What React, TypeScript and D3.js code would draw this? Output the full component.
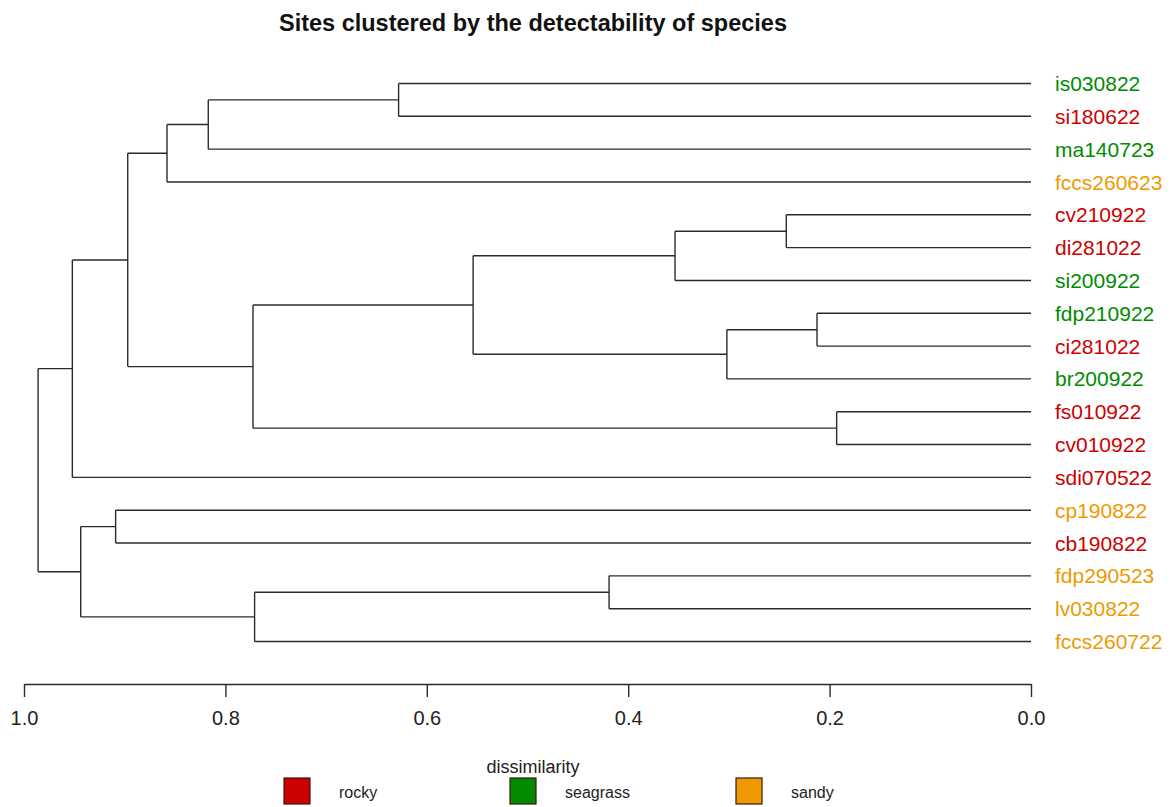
import React, { useRef, useEffect } from "react";
import * as d3 from "d3";

// leaf order top -> bottom, as in the dendrogram
const leaves = [
  "is030822", "si180622", "ma140723", "fccs260623", "cv210922", "di281022",
  "si200922", "fdp210922", "ci281022", "br200922", "fs010922", "cv010922",
  "sdi070522", "cp190822", "cb190822", "fdp290523", "lv030822", "fccs260722",
];
const leafHabitat = [
  "seagrass", "rocky", "seagrass", "sandy", "rocky", "rocky",
  "seagrass", "seagrass", "rocky", "seagrass", "rocky", "rocky",
  "rocky", "sandy", "rocky", "sandy", "sandy", "sandy",
];

// hclust-style merge table: negative = leaf (1-based), positive = earlier merge row
const mergeA = [-11, -8, -5, 2, 3, -16, 5, -1, 6, 7, 8, 11, 12, -14, 14, 13, 16];
const mergeB = [-12, -9, -6, -10, -7, -17, 4, -2, -18, 1, -3, -4, 10, -15, 9, -13, 15];
const mergeHeight = [
  0.193, 0.2125, 0.243, 0.302, 0.3535, 0.419, 0.554, 0.628, 0.771,
  0.7726, 0.817, 0.858, 0.897, 0.909, 0.9437, 0.952, 0.986,
];

const axisTicks = [1.0, 0.8, 0.6, 0.4, 0.2, 0.0];
const habitats = ["rocky", "seagrass", "sandy"];
const habitatColors = ["#CD0000", "#008B00", "#EE9A00"];

const W = 1175;
const H = 807;
const FONT = "'Liberation Sans', Arial, sans-serif";

type TreeNode = { name: string; height: number; children?: TreeNode[] };

function buildNode(ref: number): TreeNode {
  if (ref < 0) return { name: leaves[-ref - 1], height: 0 };
  const i = ref - 1;
  return {
    name: "m" + ref,
    height: mergeHeight[i],
    children: [buildNode(mergeA[i]), buildNode(mergeB[i])],
  };
}

export default function App() {
  const ref = useRef<SVGSVGElement>(null);

  useEffect(() => {
    if (!ref.current) return;
    const svg = d3.select(ref.current);
    svg.selectAll("*").remove();

    const x = d3.scaleLinear().domain([1, 0]).range([24, 1031]);
    const y = d3.scalePoint<string>().domain(leaves).range([83.5, 641.5]);
    const color = d3.scaleOrdinal<string, string>().domain(habitats).range(habitatColors);

    const root = d3.hierarchy<TreeNode>(buildNode(mergeHeight.length));
    const pos = new Map<any, { px: number; py: number }>();
    root.eachAfter((d) => {
      const px = x(d.data.height);
      const py = d.children
        ? d3.mean(d.children, (c) => pos.get(c)!.py)!
        : y(d.data.name)!;
      pos.set(d, { px, py });
    });

    // title
    svg.append("text")
      .attr("x", 533)
      .attr("y", 31)
      .attr("text-anchor", "middle")
      .attr("font-family", FONT)
      .attr("font-weight", "bold")
      .attr("font-size", 23.5)
      .attr("fill", "#111")
      .text("Sites clustered by the detectability of species");

    const g = svg.append("g")
      .attr("fill", "none")
      .attr("stroke", "#2b2b2b")
      .attr("stroke-width", 1.4);

    root.descendants().forEach((d) => {
      if (!d.children) return;
      const p = pos.get(d)!;
      const ys = d.children.map((c) => pos.get(c)!.py);
      g.append("line")
        .attr("x1", p.px).attr("x2", p.px)
        .attr("y1", d3.min(ys)!).attr("y2", d3.max(ys)!);
      d.children.forEach((c) => {
        const cp = pos.get(c)!;
        g.append("line")
          .attr("x1", p.px).attr("x2", cp.px)
          .attr("y1", cp.py).attr("y2", cp.py);
      });
    });

    // leaf labels
    svg.append("g")
      .selectAll("text")
      .data(leaves)
      .join("text")
      .attr("x", 1055)
      .attr("y", (d) => y(d)!)
      .attr("dy", "0.36em")
      .attr("font-family", FONT)
      .attr("font-size", 21)
      .attr("fill", (d, i) => color(leafHabitat[i]))
      .text((d) => d);

    // bottom axis
    const axis = svg.append("g")
      .attr("transform", "translate(0,684)")
      .call(
        d3.axisBottom(x)
          .tickValues(axisTicks)
          .tickSize(13)
          .tickSizeOuter(0)
          .tickPadding(14)
          .tickFormat(d3.format(".1f"))
      );
    axis.select(".domain").attr("stroke", "#2b2b2b").attr("stroke-width", 1.4);
    axis.selectAll(".tick line").attr("stroke", "#2b2b2b").attr("stroke-width", 1.4);
    axis.selectAll(".tick text")
      .attr("font-family", FONT)
      .attr("font-size", 20)
      .attr("fill", "#222");

    // legend
    svg.append("text")
      .attr("x", 533)
      .attr("y", 773)
      .attr("text-anchor", "middle")
      .attr("font-family", FONT)
      .attr("font-size", 18)
      .attr("fill", "#222")
      .text("dissimilarity");

    const lx = d3.scalePoint<string>().domain(habitats).range([284, 736]);
    const item = svg.append("g")
      .selectAll("g")
      .data(habitats)
      .join("g")
      .attr("transform", (d) => `translate(${lx(d)},778)`);
    item.append("rect")
      .attr("width", 26)
      .attr("height", 26)
      .attr("fill", (d) => color(d))
      .attr("stroke", "#3a1a10")
      .attr("stroke-width", 1.2);
    item.append("text")
      .attr("x", 55)
      .attr("y", 20)
      .attr("font-family", FONT)
      .attr("font-size", 16)
      .attr("fill", "#222")
      .text((d) => d);
  }, []);

  return (
    <svg
      ref={ref}
      width={W}
      height={H}
      style={{ position: "absolute", left: 0, top: 0, background: "#fff" }}
    />
  );
}
